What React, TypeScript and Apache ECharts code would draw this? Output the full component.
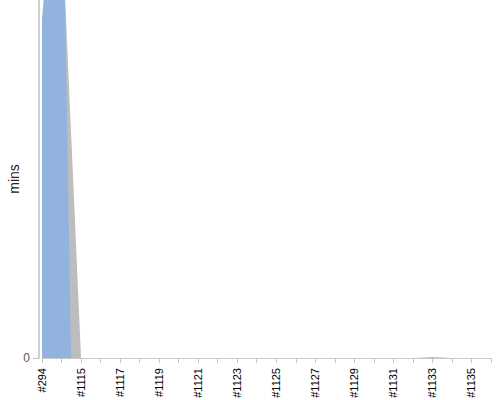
import React, { useEffect, useRef } from 'react';
import * as echarts from 'echarts';

const builds = [
  '#294', '#1114', '#1115', '#1116', '#1117', '#1118', '#1119', '#1120',
  '#1121', '#1122', '#1123', '#1124', '#1125', '#1126', '#1127', '#1128',
  '#1129', '#1130', '#1131', '#1132', '#1133', '#1134', '#1135', '#1136',
];
// total minutes (grey, drawn behind)
const totalMins = [94.7, 123, 0, 0, 0, 0, 0, 0, 0, 0, 0, 0, 0, 0, 0, 0, 0, 0, 0, 0, 0.25, 0, 0, 0];
// blue series, drawn in front
const blueMins = [94.7, 158, -167, 0, 0, 0, 0, 0, 0, 0, 0, 0, 0, 0, 0, 0, 0, 0, 0, 0, 0, 0, 0, 0];

const App: React.FC = () => {
  const chartRef = useRef<HTMLDivElement | null>(null);

  useEffect(() => {
    if (!chartRef.current) return;
    const chart = echarts.init(chartRef.current, null, { renderer: 'svg' });
    chart.setOption({
      animation: false,
      grid: { left: 42, right: 9, top: 0, bottom: 42, containLabel: false, outerBoundsMode: 'none' },
      xAxis: {
        type: 'category',
        data: builds,
        boundaryGap: false,
        offset: 4,
        axisLine: { lineStyle: { color: '#c8c8c8', width: 1 } },
        axisTick: { show: true, interval: 0, length: 5, lineStyle: { color: '#c8c8c8' } },
        axisLabel: {
          interval: 1,
          rotate: 90,
          margin: 6,
          color: '#000',
          fontSize: 11,
          fontFamily: 'Liberation Sans, Arial, sans-serif',
        },
        splitLine: { show: false },
      },
      yAxis: {
        type: 'value',
        min: 0,
        max: 100,
        offset: 3,
        name: 'mins',
        nameLocation: 'middle',
        nameRotate: 90,
        nameGap: 18,
        nameMoveOverlap: false,
        nameTextStyle: {
          color: '#222',
          fontSize: 14,
          fontFamily: 'Liberation Sans, Arial, sans-serif',
        },
        axisLine: { show: true, lineStyle: { color: '#c0c0c0', width: 1.5 } },
        axisTick: { show: true, customValues: [0], length: 6, lineStyle: { color: '#c0c0c0' } },
        axisLabel: {
          customValues: [0],
          margin: 9,
          color: '#555',
          fontSize: 12,
          fontFamily: 'Liberation Sans, Arial, sans-serif',
        },
        splitLine: { show: false },
      },
      series: [
        {
          name: 'total',
          type: 'line',
          data: totalMins,
          showSymbol: false,
          z: 1,
          lineStyle: { width: 0 },
          areaStyle: { color: '#bdbdbd', opacity: 1 },
        },
        {
          name: 'blue',
          type: 'line',
          data: blueMins,
          showSymbol: false,
          z: 2,
          lineStyle: { width: 0 },
          areaStyle: { color: '#92b3dd', opacity: 1 },
        },
      ],
    });
    return () => {
      chart.dispose();
    };
  }, []);

  return (
    <div
      ref={chartRef}
      style={{ position: 'absolute', left: 0, top: 0, width: 500, height: 400, background: '#fff' }}
    />
  );
};

export default App;
